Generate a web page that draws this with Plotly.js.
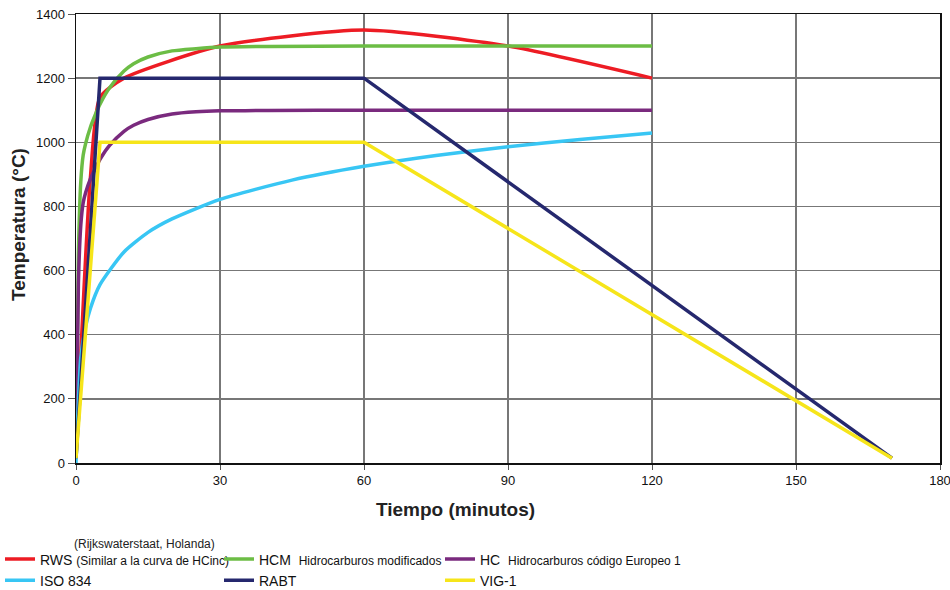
<!DOCTYPE html>
<html>
<head>
<meta charset="utf-8">
<script src="https://cdn.plot.ly/plotly-3.0.1.min.js"></script>
<style>html,body{margin:0;padding:0;background:#fff;}#chart{width:950px;height:590px;}</style>
</head>
<body>
<div id="chart"></div>
<script>
// ---- data ----
const rwsT = [0, 3, 5, 10, 30, 60, 90, 120];
const rwsV = [20, 890, 1140, 1200, 1300, 1350, 1300, 1200];

const hcmT = [0, 0.5, 1, 1.5, 2, 3, 4, 5, 7, 10, 12, 15, 20, 25, 30, 40, 60, 90, 120];
const hcmV = [20, 650, 877, 960, 996, 1047, 1085, 1119, 1170, 1222, 1245, 1266, 1285, 1292, 1297, 1299, 1300, 1300, 1300];

const hcT = [0, 0.5, 1, 1.5, 2, 3, 4, 5, 7, 10, 12, 15, 20, 25, 30, 40, 60, 90, 120];
const hcV = [20, 560, 742, 812, 843, 886, 918, 947, 990, 1034, 1053, 1071, 1088, 1095, 1098, 1099, 1100, 1100, 1100];

const isoT = [0, 1, 2, 3, 5, 10, 15, 20, 30, 45, 60, 75, 90, 105, 120];
const isoV = [0, 330, 425, 482, 556, 658, 719, 761, 822, 882, 925, 959, 986, 1009, 1029];

const rabtT = [0, 5, 60, 170];
const rabtV = [15, 1200, 1200, 15];

const vigT = [0, 5, 60, 170];
const vigV = [15, 1000, 1000, 15];

const xTicks = [0, 30, 60, 90, 120, 150, 180];
const yTicks = [0, 200, 400, 600, 800, 1000, 1200, 1400];

const FONT = "'Liberation Sans', Arial, sans-serif";
const small = (s) => "<span style='font-size:12px'>" + s + "</span>";

const mk = (x, y, name, color, legend, shape, grp) => ({
  x: x, y: y, name: name, type: 'scatter', mode: 'lines',
  line: {color: color, width: 3.5, shape: shape, smoothing: 0.6},
  legend: legend, legendgroup: grp
});

const traces = [
  mk(rwsT, rwsV, "RWS " + small("(Similar a la curva de HCinc)"), '#ED1C24', 'legend', 'spline', 'g1'),
  mk(hcmT, hcmV, "HCM  " + small("Hidrocarburos modificados"), '#6CBD45', 'legend2', 'spline', 'g2'),
  mk(hcT, hcV, "HC  " + small("Hidrocarburos código Europeo 1"), '#7A2A7E', 'legend3', 'spline', 'g3'),
  mk(isoT, isoV, "ISO 834", '#38C6F4', 'legend', 'spline', 'g4'),
  mk(rabtT, rabtV, "RABT", '#25286E', 'legend2', 'linear', 'g5'),
  mk(vigT, vigV, "VIG-1", '#F6E51A', 'legend3', 'linear', 'g6')
];

const legBase = {
  orientation: 'v', xref: 'container', yref: 'container', xanchor: 'left', yanchor: 'middle',
  itemwidth: 30, traceorder: 'normal', y: 1 - 570/590,
  font: {family: FONT, size: 14, color: '#111'}, bgcolor: 'rgba(0,0,0,0)',
  tracegroupgap: 7, itemclick: false, itemdoubleclick: false
};

const layout = {
  width: 950, height: 590,
  margin: {l: 76, r: 10, t: 14, b: 127, autoexpand: false},
  paper_bgcolor: '#fff', plot_bgcolor: '#fff',
  font: {family: FONT, size: 13, color: '#111'},
  showlegend: true,
  legend: Object.assign({}, legBase, {x: 0 / 950}),
  legend2: Object.assign({}, legBase, {x: 219 / 950}),
  legend3: Object.assign({}, legBase, {x: 440 / 950}),
  xaxis: {
    range: [0, 180], tickvals: xTicks, ticktext: xTicks.map(String),
    showgrid: true, gridcolor: '#777', gridwidth: 1.5,
    showline: true, linecolor: '#111', linewidth: 1.5, mirror: true,
    ticks: 'outside', ticklen: 5, tickcolor: '#555',
    ticklabeloverflow: 'allow', automargin: false,
    zeroline: false, tickfont: {family: FONT, size: 13, color: '#111'},
    fixedrange: true
  },
  yaxis: {
    range: [0, 1400], tickvals: yTicks, ticktext: yTicks.map(String),
    showgrid: true, gridcolor: '#777', gridwidth: 1.5,
    showline: true, linecolor: '#111', linewidth: 1.5, mirror: true,
    ticks: 'outside', ticklen: 7, tickcolor: '#555', automargin: false,
    zeroline: false, tickfont: {family: FONT, size: 13, color: '#111'},
    fixedrange: true
  },
  annotations: [
    {xref: 'paper', yref: 'paper', x: (455 - 76) / 864, y: -(509 - 463) / 449, text: '<b>Tiempo (minutos)</b>',
     showarrow: false, xanchor: 'center', yanchor: 'middle', font: {family: FONT, size: 19, color: '#222'}},
    {xref: 'paper', yref: 'paper', x: -(76 - 18) / 864, y: (463 - 224) / 449, text: '<b>Temperatura (°C)</b>',
     textangle: -90, showarrow: false, xanchor: 'center', yanchor: 'middle', font: {family: FONT, size: 19, color: '#222'}},
    {xref: 'paper', yref: 'paper', x: -(76 - 72) / 864, y: -(544 - 463) / 449, text: '(Rijkswaterstaat, Holanda)',
     showarrow: false, xanchor: 'left', yanchor: 'middle', font: {family: FONT, size: 12, color: '#222'}}
  ]
};

Plotly.newPlot('chart', traces, layout, {displayModeBar: false, staticPlot: true});
</script>
</body>
</html>
